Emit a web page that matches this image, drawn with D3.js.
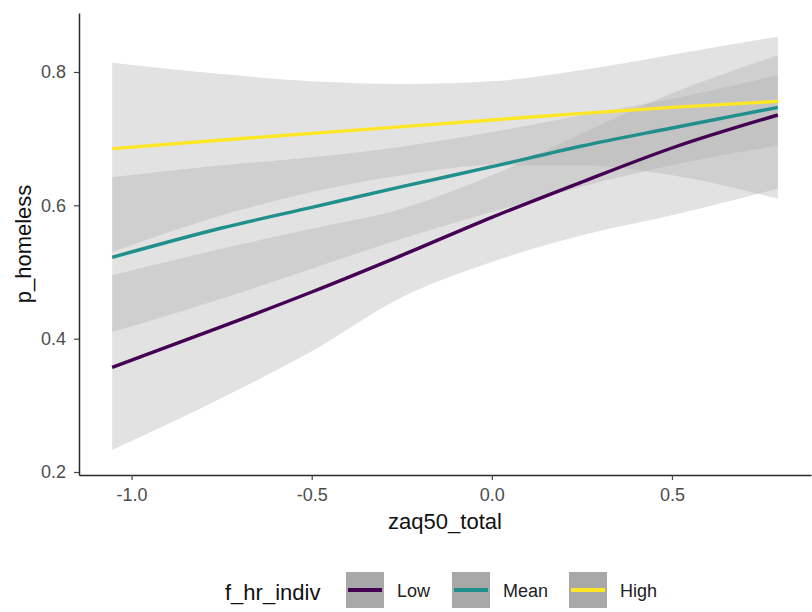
<!DOCTYPE html>
<html>
<head>
<meta charset="utf-8">
<script src="https://cdn.jsdelivr.net/npm/d3@7"></script>
<style>
  body { margin: 0; background: #fff; }
  svg { display: block; }
  text { font-family: "Liberation Sans", Arial, Helvetica, sans-serif; }
</style>
</head>
<body>
<svg id="chart" width="812" height="612"></svg>
<script>
// Predicted p_homeless along zaq50_total, by level of f_hr_indiv
const zaq50 = [-1.054, -0.75, -0.5, -0.25, 0.0, 0.25, 0.5, 0.794];

const lowFit  = [0.357, 0.418, 0.470, 0.525, 0.582, 0.635, 0.686, 0.7355];
const lowLo   = [0.233, 0.311, 0.381, 0.462, 0.515, 0.555, 0.585, 0.625];
const lowHi   = [0.495, 0.535, 0.565, 0.595, 0.645, 0.708, 0.768, 0.825];

const meanFit = [0.522, 0.566, 0.597, 0.628, 0.658, 0.689, 0.716, 0.747];
const meanLo  = [0.410, 0.460, 0.505, 0.550, 0.590, 0.628, 0.660, 0.690];
const meanHi  = [0.642, 0.660, 0.672, 0.688, 0.710, 0.735, 0.760, 0.795];

const highFit = [0.685, 0.698, 0.708, 0.718, 0.728, 0.738, 0.747, 0.756];
const highLo  = [0.530, 0.585, 0.620, 0.645, 0.660, 0.660, 0.645, 0.610];
const highHi  = [0.814, 0.797, 0.786, 0.782, 0.786, 0.803, 0.826, 0.853];

const levels = ["Low", "Mean", "High"];
const levelColors = ["#440154", "#21908C", "#FDE725"];

const xTicks = [-1.0, -0.5, 0.0, 0.5];
const yTicks = [0.2, 0.4, 0.6, 0.8];

const series = [
  { fit: lowFit,  lo: lowLo,  hi: lowHi  },
  { fit: meanFit, lo: meanLo, hi: meanHi },
  { fit: highFit, lo: highLo, hi: highHi }
].map((s, i) => ({
  level: levels[i],
  color: levelColors[i],
  pts: zaq50.map((x, j) => ({ x, fit: s.fit[j], lo: s.lo[j], hi: s.hi[j] }))
}));

const svg = d3.select("#chart");
const panel = { left: 79, right: 811, top: 13, bottom: 475 };

const x = d3.scaleLinear().domain([-1.146, 0.886]).range([panel.left, panel.right]);
const y = d3.scaleLinear().domain([0.1955, 0.8885]).range([panel.bottom, panel.top]);

// confidence ribbons
const area = d3.area()
  .x(d => x(d.x)).y0(d => y(d.lo)).y1(d => y(d.hi))
  .curve(d3.curveMonotoneX);

svg.append("g").selectAll("path")
  .data(series).join("path")
  .attr("d", d => area(d.pts))
  .attr("fill", "#b0b0b0")
  .attr("fill-opacity", 0.36);

// fitted lines
const line = d3.line()
  .x(d => x(d.x)).y(d => y(d.fit))
  .curve(d3.curveMonotoneX);

svg.append("g").selectAll("path")
  .data(series).join("path")
  .attr("d", d => line(d.pts))
  .attr("fill", "none")
  .attr("stroke", d => d.color)
  .attr("stroke-width", 3.4)
  .attr("stroke-linecap", "butt");

// axes
const xAxis = d3.axisBottom(x)
  .tickValues(xTicks).tickFormat(d => d.toFixed(1))
  .tickSize(5).tickSizeOuter(0).tickPadding(8);
const yAxis = d3.axisLeft(y)
  .tickValues(yTicks).tickFormat(d => d.toFixed(1))
  .tickSize(5).tickSizeOuter(0).tickPadding(8);

function styleAxis(g) {
  g.select(".domain").attr("stroke", "#2a2a2a").attr("stroke-width", 1.5);
  g.selectAll(".tick line").attr("stroke", "#444").attr("stroke-width", 1.2);
  g.selectAll(".tick text")
    .attr("fill", "#4d4d4d")
    .style("font-size", "18px")
    .style("font-family", "'Liberation Sans', Arial, sans-serif");
}

svg.append("g").attr("transform", `translate(0,${panel.bottom})`).call(xAxis).call(styleAxis);
svg.append("g").attr("transform", `translate(${panel.left},0)`).call(yAxis).call(styleAxis);

// axis titles
svg.append("text")
  .attr("x", (panel.left + panel.right) / 2).attr("y", 529)
  .attr("text-anchor", "middle")
  .style("font-size", "22px").attr("fill", "#111")
  .text("zaq50_total");

svg.append("text")
  .attr("transform", `translate(31,${(panel.top + panel.bottom) / 2}) rotate(-90)`)
  .attr("text-anchor", "middle")
  .style("font-size", "22px").attr("fill", "#111")
  .text("p_homeless");

// legend
const legend = svg.append("g");
legend.append("text")
  .attr("x", 225).attr("y", 600)
  .style("font-size", "22px").attr("fill", "#111")
  .text("f_hr_indiv");

const keyX = [346, 452, 569];
const keyW = 38, keyH = 36, keyY = 572;

const items = legend.selectAll("g.item")
  .data(series).join("g").attr("class", "item")
  .attr("transform", (d, i) => `translate(${keyX[i]},${keyY})`);

items.append("rect")
  .attr("width", keyW).attr("height", keyH)
  .attr("fill", "#a8a8a8");
items.append("line")
  .attr("x1", 2).attr("x2", keyW - 2)
  .attr("y1", keyH / 2).attr("y2", keyH / 2)
  .attr("stroke", d => d.color).attr("stroke-width", 4);
items.append("text")
  .attr("x", keyW + 13).attr("y", keyH / 2 + 6.5)
  .style("font-size", "18px").attr("fill", "#222")
  .text(d => d.level);
</script>
</body>
</html>
